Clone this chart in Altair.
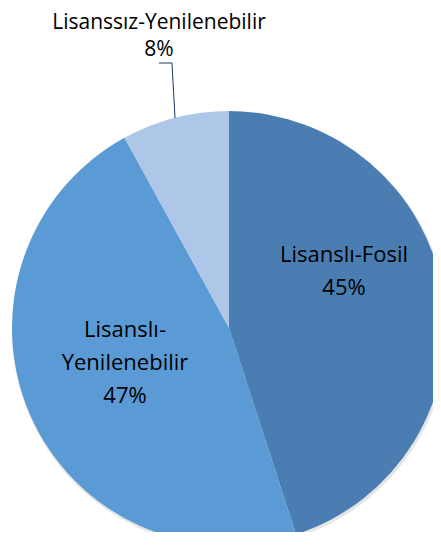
import altair as alt
import pandas as pd

categories = ["Lisanslı-Fosil", "Lisanslı-Yenilenebilir", "Lisanssız-Yenilenebilir"]
values = [45, 47, 8]
colors = ["#4a7eb3", "#5b9bd5", "#aec6e7"]

df = pd.DataFrame({"cat": categories, "val": values, "ord": [0, 1, 2]})

CX, CY, R = 221, 320, 217
FONT = "Open Sans"
FS = 22

shadow = alt.Chart(pd.DataFrame({"a": [1]})).mark_arc(
    theta=0, theta2=6.2832, radius=218, color="#000000", opacity=0.10
).encode(x=alt.value(CX + 1), y=alt.value(CY + 2))

pie = alt.Chart(df).mark_arc(radius=R, stroke=None).encode(
    theta=alt.Theta("val:Q", stack=True),
    order=alt.Order("ord:Q"),
    color=alt.Color("cat:N", scale=alt.Scale(domain=categories, range=colors), legend=None),
    x=alt.value(CX),
    y=alt.value(CY),
)

def label(lines, cx, baselines, fs=FS):
    layers = []
    for t, b in zip(lines, baselines):
        layers.append(
            alt.Chart(pd.DataFrame({"t": [t]})).mark_text(
                font=FONT, fontSize=fs, color="#000000", align="center", baseline="alphabetic"
            ).encode(text="t:N", x=alt.value(cx), y=alt.value(b))
        )
    return layers

pct = [f"{v}%" for v in values]

texts = []
texts += label(["Lisanslı-Fosil", pct[0]], 344 - 8, [262 - 8, 295 - 8])
texts += label(["Lisanslı-", "Yenilenebilir", pct[1]], 125 - 8, [337 - 8, 370 - 8, 403 - 8])
texts += label([categories[2], pct[2]], 159 - 8, [29 - 8, 56 - 8], fs=21)

lead1 = alt.Chart(pd.DataFrame({"a": [1]})).mark_rule(color="#1f3864", strokeWidth=1).encode(
    x=alt.value(159 - 8), x2=alt.value(172 - 8), y=alt.value(63 - 8), y2=alt.value(63 - 8)
)
lead2 = alt.Chart(pd.DataFrame({"a": [1]})).mark_rule(color="#1f3864", strokeWidth=1).encode(
    x=alt.value(172 - 8), x2=alt.value(175 - 8), y=alt.value(63 - 8), y2=alt.value(118 - 8)
)

chart = alt.layer(shadow, pie, lead1, lead2, *texts).properties(
    width=425, height=524, padding=0, autosize=alt.AutoSizeParams(type="none")
).configure_view(stroke=None)

chart.save("out.html", embed_options={"renderer": "svg", "actions": False})
